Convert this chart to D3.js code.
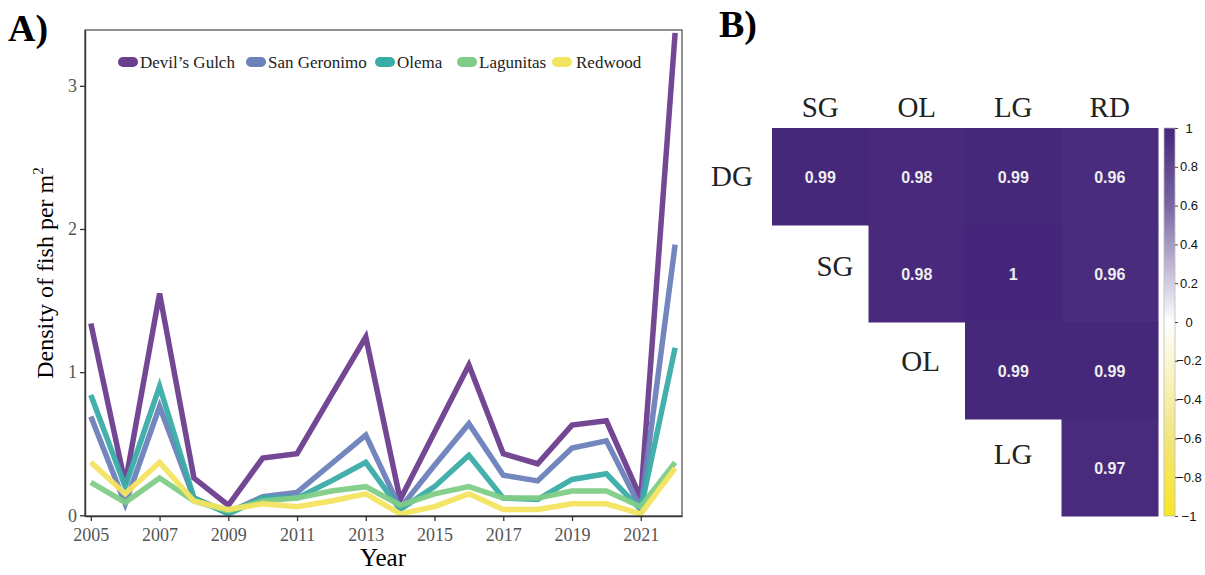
<!DOCTYPE html>
<html>
<head>
<meta charset="utf-8">
<script src="https://cdn.jsdelivr.net/npm/d3@7"></script>
<style>
  body { margin: 0; background: #fff; }
  svg { display: block; }
</style>
</head>
<body>
<svg width="1205" height="575"></svg>
<script>
// data
const years = [2005,2006,2007,2008,2009,2010,2011,2012,2013,2014,2015,2016,2017,2018,2019,2020,2021,2022];
const devilsGulch = [1.34,0.22,1.55,0.26,0.07,0.40,0.43,0.84,1.245,0.11,0.58,1.05,0.43,0.36,0.63,0.66,0.12,3.37];
const sanGeronimo = [0.69,0.08,0.76,0.12,0.02,0.13,0.16,0.36,0.56,0.05,0.35,0.64,0.28,0.24,0.47,0.52,0.05,1.89];
const olema       = [0.84,0.20,0.90,0.12,0.01,0.12,0.12,0.24,0.37,0.04,0.20,0.42,0.12,0.11,0.25,0.29,0.04,1.17];
const lagunitas   = [0.23,0.09,0.26,0.10,0.03,0.10,0.12,0.17,0.20,0.07,0.15,0.20,0.12,0.12,0.17,0.17,0.06,0.37];
const redwood     = [0.37,0.15,0.37,0.10,0.04,0.08,0.06,0.10,0.15,0.01,0.06,0.15,0.04,0.04,0.08,0.08,0.01,0.33];
const siteNames = ["Devil\u2019s Gulch","San Geronimo","Olema","Lagunitas","Redwood"];
const siteColors = ["#6b3d8e","#6c80b9","#3aaca6","#80cc86","#f3e460"];
const xTicks = [2005,2007,2009,2011,2013,2015,2017,2019,2021];
const yTicks = [0,1,2,3];

const corrCols = ["SG","OL","LG","RD"];
const corrRows = ["DG","SG","OL","LG"];
const corrCells = [
  {row:"DG", col:"SG", r:0.99}, {row:"DG", col:"OL", r:0.98}, {row:"DG", col:"LG", r:0.99}, {row:"DG", col:"RD", r:0.96},
  {row:"SG", col:"OL", r:0.98}, {row:"SG", col:"LG", r:1},    {row:"SG", col:"RD", r:0.96},
  {row:"OL", col:"LG", r:0.99}, {row:"OL", col:"RD", r:0.99},
  {row:"LG", col:"RD", r:0.97}
];
const barTicks = [1,0.8,0.6,0.4,0.2,0,-0.2,-0.4,-0.6,-0.8,-1];

const svg = d3.select("svg");
const serif = "'Liberation Serif', 'Times New Roman', serif";
const sans = "'Liberation Sans', Arial, sans-serif";

// ---------- panel A ----------
const x = d3.scaleLinear().domain([2004.83, 2022.2]).range([85, 682]);
const y = d3.scaleLinear().domain([-0.005, 3.39]).range([516, 30]);

svg.append("text").attr("x", 8).attr("y", 41)
   .style("font-family", serif).style("font-weight", "bold").style("font-size", "38px")
   .text("A)");

const series = [devilsGulch, sanGeronimo, olema, lagunitas, redwood];
const line = d3.line().x((d, i) => x(years[i])).y(d => y(d));

svg.append("g").selectAll("path")
   .data(series)
   .enter().append("path")
   .attr("d", line)
   .attr("fill", "none")
   .attr("stroke", (d, i) => siteColors[i])
   .attr("stroke-width", 5.5)
   .attr("stroke-linejoin", "miter")
   .attr("stroke-opacity", 0.95);

svg.append("rect")
   .attr("x", 85).attr("y", 30).attr("width", 597).attr("height", 486)
   .attr("fill", "none").attr("stroke", "#444").attr("stroke-width", 1.2);

const xAxis = svg.append("g").attr("transform", "translate(0,516)")
   .call(d3.axisBottom(x).tickValues(xTicks).tickFormat(d3.format("d")).tickSize(5).tickSizeOuter(0));
const yAxis = svg.append("g").attr("transform", "translate(85,0)")
   .call(d3.axisLeft(y).tickValues(yTicks).tickFormat(d3.format("d")).tickSize(5).tickSizeOuter(0));
[xAxis, yAxis].forEach(a => {
  a.select(".domain").attr("stroke", "#333").attr("stroke-width", 1.4);
  a.selectAll(".tick line").attr("stroke", "#333").attr("stroke-width", 1.3);
  a.selectAll(".tick text").attr("fill", "#555")
   .style("font-family", serif).style("font-size", "18px");
});
xAxis.selectAll(".tick text").attr("dy", "0.95em");

svg.append("text").attr("x", 383).attr("y", 566).attr("text-anchor", "middle")
   .style("font-family", serif).style("font-size", "25px").text("Year");

svg.append("text")
   .attr("transform", "translate(53,273) rotate(-90)")
   .attr("text-anchor", "middle")
   .style("font-family", serif).style("font-size", "24px")
   .html("Density of fish per m<tspan dy='-10' font-size='15px'>2</tspan>");

// legend
const legendX = [118, 246, 375, 457, 552];
const legend = svg.append("g");
siteNames.forEach((name, i) => {
  legend.append("rect").attr("x", legendX[i]).attr("y", 57).attr("width", 20).attr("height", 10)
        .attr("rx", 5).attr("fill", siteColors[i]);
  legend.append("text").attr("x", legendX[i] + (i === 4 ? 24 : 22)).attr("y", 68)
        .style("font-family", serif).style("font-size", "17px").attr("fill", "#222")
        .text(name);
});

// ---------- panel B ----------
svg.append("text").attr("x", 719).attr("y", 37)
   .style("font-family", serif).style("font-weight", "bold").style("font-size", "38px")
   .text("B)");

const cx = d3.scaleBand().domain(corrCols).range([772, 1158]);
const cy = d3.scaleBand().domain(corrRows).range([128, 516]);
const color = d3.scaleLinear()
   .domain([-1, -0.6, 0, 0.6, 1])
   .range(["#f8e621", "#f2e57a", "#ffffff", "#7a66a4", "#45267a"]);

svg.append("g").selectAll("rect")
   .data(corrCells)
   .enter().append("rect")
   .attr("x", d => cx(d.col)).attr("y", d => cy(d.row))
   .attr("width", cx.bandwidth() + 0.5).attr("height", cy.bandwidth() + 0.5)
   .attr("fill", d => color(d.r));

svg.append("g").selectAll("text")
   .data(corrCells)
   .enter().append("text")
   .attr("x", d => cx(d.col) + cx.bandwidth() / 2)
   .attr("y", d => cy(d.row) + cy.bandwidth() / 2 + 6)
   .attr("text-anchor", "middle")
   .attr("fill", "#eee")
   .style("font-family", sans).style("font-weight", "bold").style("font-size", "16px")
   .text(d => d3.format("~g")(d.r));

svg.append("g").selectAll("text")
   .data(corrCols)
   .enter().append("text")
   .attr("x", d => cx(d) + cx.bandwidth() / 2).attr("y", 117)
   .attr("text-anchor", "middle")
   .style("font-family", serif).style("font-size", "29px").attr("fill", "#222")
   .text(d => d);

// row labels sit just left of the first cell of each row
const rowGap = [19, 15, 25, 29];
const rowShift = [9, 2, 0, -4];
svg.append("g").selectAll("text")
   .data(corrRows)
   .enter().append("text")
   .attr("x", (d, i) => cx(corrCols[i]) - rowGap[i])
   .attr("y", (d, i) => cy(d) + cy.bandwidth() / 2 + rowShift[i])
   .attr("text-anchor", "end")
   .style("font-family", serif).style("font-size", "29px").attr("fill", "#222")
   .text(d => d);

// colour bar
const by = d3.scaleLinear().domain([-1, 1]).range([516, 128]);
const grad = svg.append("defs").append("linearGradient").attr("id", "cbar")
   .attr("x1", 0).attr("y1", 1).attr("x2", 0).attr("y2", 0);
d3.range(-1, 1.01, 0.1).forEach(v => {
  grad.append("stop").attr("offset", (v + 1) / 2).attr("stop-color", color(v));
});
svg.append("rect").attr("x", 1164).attr("y", 128).attr("width", 11).attr("height", 388)
   .attr("fill", "url(#cbar)").attr("stroke", "#bbb").attr("stroke-width", 0.8);
const barAxis = svg.append("g").attr("transform", "translate(1175,0)")
   .call(d3.axisRight(by).tickValues(barTicks).tickFormat(d3.format("~g")).tickSize(3).tickSizeOuter(0));
barAxis.select(".domain").remove();
barAxis.selectAll(".tick line").attr("stroke", "#444");
barAxis.selectAll(".tick text").attr("fill", "#111")
   .attr("x", 14).attr("text-anchor", "middle")
   .style("font-family", sans).style("font-size", "13px");
</script>
</body>
</html>
